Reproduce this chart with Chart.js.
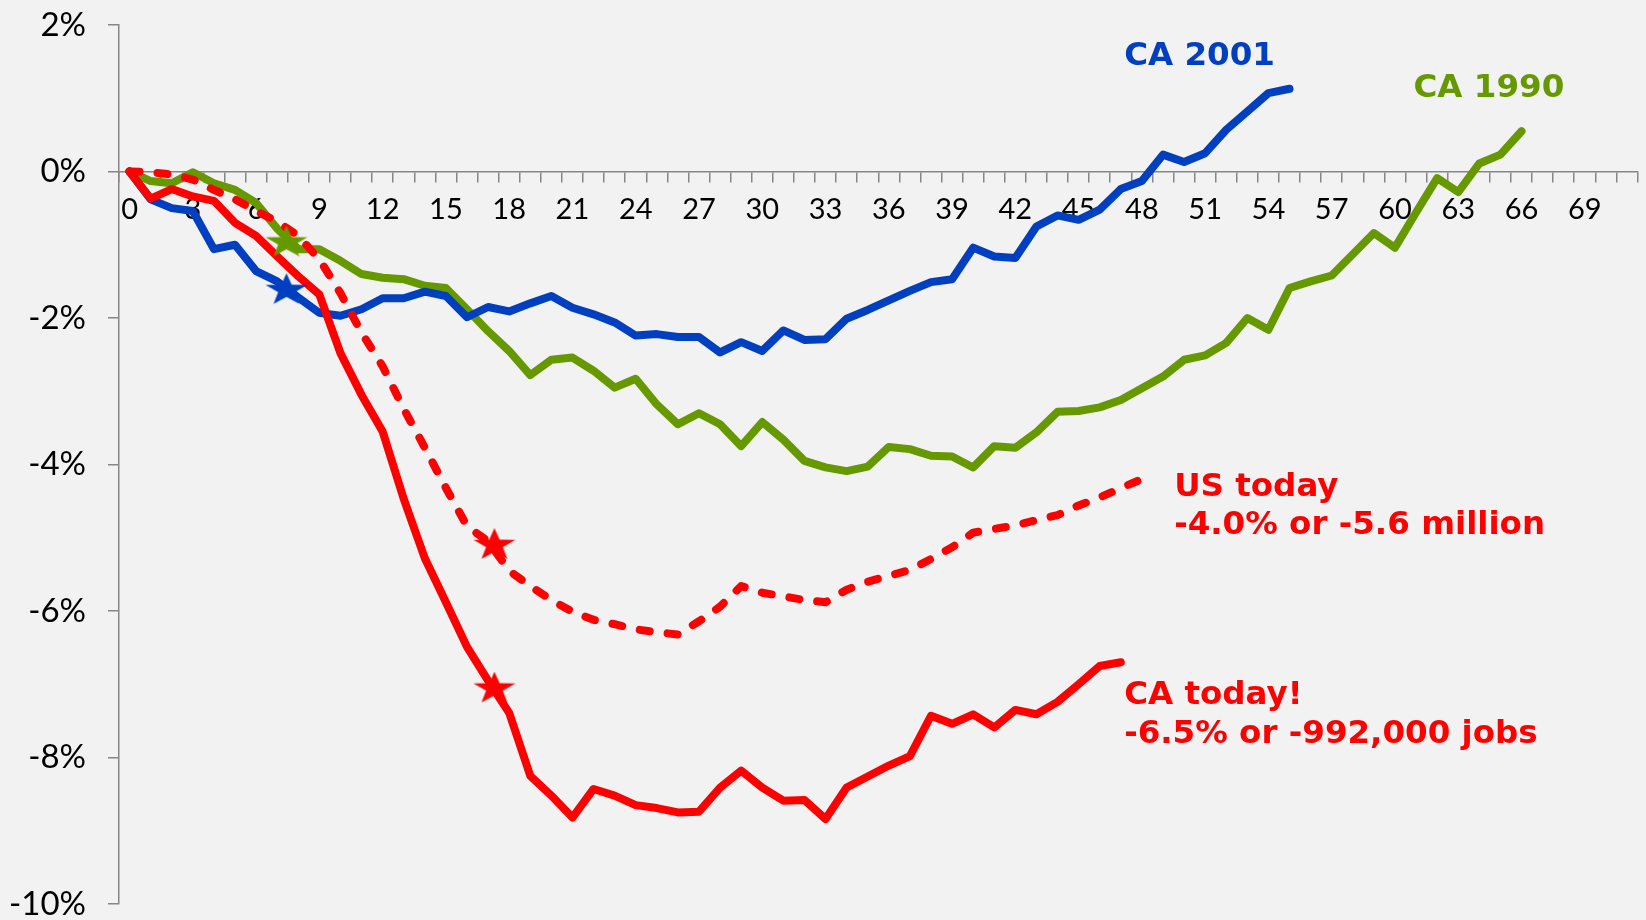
<!DOCTYPE html>
<html>
<head>
<meta charset="utf-8">
<script src="https://cdn.jsdelivr.net/npm/chart.js@4.4.1/dist/chart.umd.min.js"></script>
<style>
  html, body { margin: 0; padding: 0; background: #f2f2f2; }
  #wrap { width: 1646px; height: 920px; position: relative; }
</style>
</head>
<body>
<div id="wrap"><canvas id="jobsChart"></canvas></div>
<script>
// Months since the start of each recession (x categories)
const months = [
  0, 1, 2, 3, 4, 5, 6, 7, 8, 9, 10, 11, 12, 13, 14, 15, 16, 17, 18, 19, 20, 21, 22, 23,
  24, 25, 26, 27, 28, 29, 30, 31, 32, 33, 34, 35, 36, 37, 38, 39, 40, 41, 42, 43, 44, 45, 46, 47,
  48, 49, 50, 51, 52, 53, 54, 55, 56, 57, 58, 59, 60, 61, 62, 63, 64, 65, 66, 67, 68, 69, 70, 71
];

// % change in jobs since the peak
const caToday = [
  0, -0.37, -0.24, -0.34, -0.40, -0.70, -0.88, -1.16, -1.43, -1.68,
  -2.48, -3.05, -3.55, -4.47, -5.28, -5.88, -6.49, -6.95, -7.39, -8.25,
  -8.52, -8.82, -8.43, -8.52, -8.65, -8.69, -8.75, -8.74, -8.41, -8.18,
  -8.41, -8.59, -8.58, -8.84, -8.41, -8.26, -8.11, -7.98, -7.43, -7.54,
  -7.41, -7.59, -7.35, -7.41, -7.24, -7.00, -6.75, -6.70
];

const usToday = [
  0, -0.01, -0.04, -0.11, -0.25, -0.38, -0.54, -0.68, -0.88, -1.20,
  -1.66, -2.20, -2.66, -3.24, -3.77, -4.32, -4.84, -5.05, -5.45, -5.66,
  -5.85, -6.01, -6.12, -6.18, -6.25, -6.29, -6.32, -6.14, -5.94, -5.66,
  -5.75, -5.80, -5.85, -5.88, -5.71, -5.60, -5.52, -5.44, -5.29, -5.13,
  -4.93, -4.88, -4.83, -4.76, -4.69, -4.56, -4.45, -4.32, -4.20
];

const ca2001 = [
  0, -0.38, -0.50, -0.54, -1.06, -1.00, -1.36, -1.50, -1.72, -1.93,
  -1.97, -1.88, -1.73, -1.73, -1.64, -1.70, -1.99, -1.85, -1.91, -1.80,
  -1.70, -1.86, -1.95, -2.06, -2.24, -2.22, -2.26, -2.26, -2.47, -2.33,
  -2.45, -2.17, -2.30, -2.29, -2.01, -1.89, -1.76, -1.63, -1.51, -1.47,
  -1.04, -1.16, -1.18, -0.75, -0.60, -0.66, -0.52, -0.24, -0.13, 0.23,
  0.13, 0.25, 0.57, 0.82, 1.07, 1.13
];

const ca1990 = [
  0, -0.13, -0.16, -0.01, -0.16, -0.25, -0.43, -0.78, -1.06, -1.06,
  -1.22, -1.40, -1.45, -1.47, -1.56, -1.59, -1.88, -2.18, -2.45, -2.78,
  -2.57, -2.54, -2.72, -2.95, -2.83, -3.18, -3.45, -3.30, -3.45, -3.75,
  -3.42, -3.66, -3.95, -4.04, -4.09, -4.03, -3.76, -3.79, -3.88, -3.89,
  -4.04, -3.75, -3.77, -3.56, -3.28, -3.27, -3.22, -3.12, -2.96, -2.80,
  -2.57, -2.51, -2.34, -2.00, -2.16, -1.59, -1.50, -1.42, -1.13, -0.84,
  -1.04, -0.56, -0.09, -0.28, 0.11, 0.23, 0.55
];

// star markers (month, value)
const starMonths = [7.44, 7.44, 17.3, 17.3];
const starValues = [-1.62, -0.97, -5.10, -7.06];

const yTicks = [2, 0, -2, -4, -6, -8, -10];

const BLUE = '#0040c0';
const GREEN = '#669900';
const RED = '#ff0000';
const AXIS = '#868686';

const starColors = [BLUE, GREEN, RED, RED];

// texte posé aux coordonnées des données
const callouts = [
  { lines: ['CA 2001'], color: BLUE, month: 47.16, value: 1.46 },
  { lines: ['CA 1990'], color: GREEN, month: 60.88, value: 1.02 },
  { lines: ['US today', '-4.0% or -5.6 million'], color: RED, month: 49.53, value: -4.43 },
  { lines: ['CA today!', '-6.5% or -992,000 jobs'], color: RED, month: 47.16, value: -7.27 }
];

function starImage(color) {
  const c = document.createElement('canvas');
  c.width = 44;
  c.height = 34;
  const g = c.getContext('2d');
  g.fillStyle = color;
  g.beginPath();
  for (let k = 0; k < 10; k++) {
    const r = k % 2 === 0 ? 1 : 0.4;
    const a = -Math.PI / 2 + k * Math.PI / 5;
    g.lineTo(22 + Math.cos(a) * 22 * r, 17 + Math.sin(a) * 17 * r);
  }
  g.closePath();
  g.fill();
  return c;
}

const calloutPlugin = {
  id: 'callouts',
  afterDatasetsDraw(chart) {
    const { ctx, scales: { x, y } } = chart;
    ctx.save();
    ctx.font = 'bold 32.5px "DejaVu Sans"';
    ctx.textBaseline = 'alphabetic';
    ctx.textAlign = 'left';
    callouts.forEach(c => {
      const px = x.getPixelForValue(c.month);
      const py = y.getPixelForValue(c.value);
      ctx.fillStyle = c.color;
      c.lines.forEach((line, i) => ctx.fillText(line, px, py + i * 38.5));
    });
    ctx.restore();
  }
};

function lineSet(label, data, color, dashed) {
  return {
    label: label,
    data: data,
    borderColor: color,
    backgroundColor: color,
    borderWidth: 8,
    borderDash: dashed ? [10, 18] : [],
    borderCapStyle: 'round',
    borderJoinStyle: 'round',
    fill: false,
    tension: 0,
    pointRadius: 0,
    pointHoverRadius: 0
  };
}

new Chart(document.getElementById('jobsChart'), {
  type: 'line',
  data: {
    labels: months,
    datasets: [
      {
        label: 'stars',
        type: 'scatter',
        xAxisID: 'xs',
        data: starMonths.map((m, i) => ({ x: m, y: starValues[i] })),
        pointStyle: starColors.map(starImage),
        pointRadius: 17,
        showLine: false
      },
      lineSet('CA today', caToday, RED, false),
      lineSet('US today', usToday, RED, true),
      lineSet('CA 2001', ca2001, BLUE, false),
      lineSet('CA 1990', ca1990, GREEN, false)
    ]
  },
  options: {
    responsive: true,
    maintainAspectRatio: false,
    animation: false,
    layout: {
      autoPadding: false,
      padding: { left: 0, right: 8.5, top: 25, bottom: 16 }
    },
    plugins: {
      legend: { display: false },
      tooltip: { enabled: false }
    },
    scales: {
      x: {
        type: 'category',
        position: { y: 0 },
        offset: true,
        grid: {
          display: true,
          offset: true,
          drawOnChartArea: false,
          drawTicks: true,
          tickLength: 10,
          color: AXIS,
          lineWidth: 1.5
        },
        border: { display: true, color: AXIS, width: 1.5 },
        ticks: {
          autoSkip: false,
          maxRotation: 0,
          padding: 11,
          color: '#000',
          font: { family: 'Lato', size: 29 },
          callback: function(value, index) {
            return index % 3 === 0 ? this.getLabelForValue(value) : '';
          }
        },
        afterFit: function(scale) {
          scale.paddingLeft = 0;
          scale.paddingRight = 0;
        }
      },
      xs: {
        type: 'linear',
        display: false,
        min: -0.5,
        max: 71.5
      },
      y: {
        min: -10,
        max: 2,
        afterBuildTicks: function(scale) {
          scale.ticks = yTicks.map(v => ({ value: v }));
        },
        afterFit: function(scale) {
          scale.width = 119;
          scale.paddingTop = 0;
          scale.paddingBottom = 0;
        },
        grid: {
          display: true,
          drawOnChartArea: false,
          drawTicks: true,
          tickLength: 11,
          color: AXIS,
          lineWidth: 1.5
        },
        border: { display: true, color: AXIS, width: 1.5 },
        ticks: {
          padding: 22,
          color: '#000',
          font: { family: 'Lato', size: 33, lineHeight: 0.9 },
          callback: function(v) {
            return v + '%';
          }
        }
      }
    }
  },
  plugins: [calloutPlugin]
});
</script>
</body>
</html>
